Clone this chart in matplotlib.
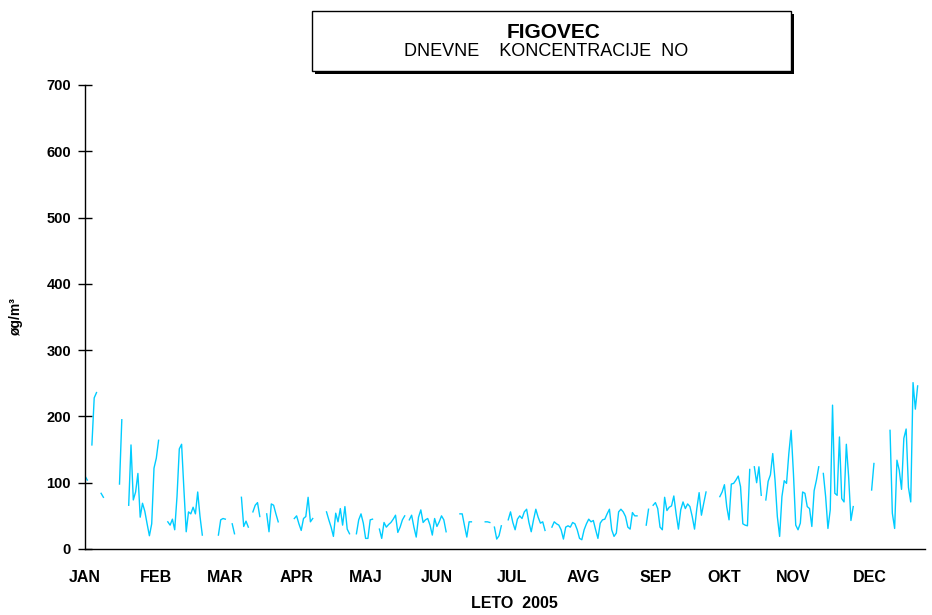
import numpy as np
import matplotlib
matplotlib.use("Agg")
import matplotlib.pyplot as plt
from matplotlib.patches import Rectangle

plt.rcParams['font.family'] = ['Liberation Sans', 'DejaVu Sans']

# Daily NO values, one list per month (None = no measurement)
jan = [110, 104, None, 157, 228, 236, None, 84, 78, None, None, None, None, None, None,
       98, 195, None, None, 66, 157, 74, 86, 114, 48, 69, 57, 38, 20, 38, 122]
feb = [137, 164, None, None, None, 41, 36, 45, 29, 79, 151, 158, 90, 26, 56, 53, 63, 53,
       86, 49, 21, None, None, None, None, None, None, 21]
mar = [44, 46, 45, None, None, 38, 23, None, None, 78, 34, 42, 33, None, 56, 66, 70, 49,
       None, None, 53, 26, 68, 66, 53, 41, None, None, None, None, None]
apr = [None, 46, 50, 38, 28, 46, 49, 78, 41, 46, None, None, None, None, None, 56, 44, 33,
       19, 54, 41, 61, 36, 64, 30, 23, None, None, 23, 44]
maj = [53, 39, 16, 16, 44, 45, None, None, 30, 16, 40, 33, 37, 40, 45, 51, 25, 33, 44, 50,
       None, 44, 51, 33, 18, 48, 59, 40, 44, 46, 36]
jun = [21, 46, 34, 41, 50, 44, 26, None, None, None, None, None, 53, 53, 35, 18, 41, 41,
       None, None, None, None, None, 41, 41, 40, None, 33, 15, 20]
jul = [35, None, None, 44, 56, 40, 29, 45, 50, 46, 56, 60, 40, 26, 44, 60, 48, 39, 41, 28,
       None, None, 33, 41, 38, 36, 29, 15, 33, 35, 33]
avg = [40, 38, 29, 16, 14, 29, 38, 45, 41, 43, 29, 16, 39, 44, 45, 53, 60, 29, 19, 24,
       56, 60, 56, 49, 33, 30, 55, 50, 50, None, None]
sep = [None, 36, 60, None, 66, 70, 61, 33, 29, 78, 58, 63, 65, 80, 53, 30, 59, 71, 61, 68,
       64, 49, 30, 61, 85, 51, 69, 86, None, None]
okt = [None, None, None, 79, 86, 97, 64, 44, 98, 99, 104, 110, 94, 38, 36, 35, 120, None,
       124, 100, 124, 81, None, 74, 102, 112, 144, 104, 49, 19, 79]
nov = [103, 99, 144, 179, 114, 36, 29, 39, 86, 84, 64, 61, 34, 88, 104, 124, None, 114, 79,
       31, 59, 217, 84, 81, 169, 76, 71, 158, 109, 43]
dec = [64, None, None, None, None, None, None, None, 89, 129, None, None, None, None, None,
       None, 179, 54, 31, 134, 119, 90, 167, 181, 93, 71, 251, 211, 246, None, None]

months = ['JAN', 'FEB', 'MAR', 'APR', 'MAJ', 'JUN', 'JUL', 'AVG', 'SEP', 'OKT', 'NOV', 'DEC']
month_pos = [0, 31, 61, 92, 122, 153, 185.5, 216.5, 248, 278, 308, 341]

values = np.array(jan + feb + mar + apr + maj + jun + jul + avg + sep + okt + nov + dec,
                  dtype=float)
days = np.arange(len(values))

fig = plt.figure(figsize=(9.32, 6.15), dpi=100)
ax = fig.add_axes([85/932, 66/615, 840/932, 464/615])

ax.plot(days, values, color='#00CCFF', lw=1.0)

ax.set_xlim(0, 365.2)
ax.set_ylim(0, 700)
ax.set_yticks(np.arange(0, 701, 100))
ax.set_xticks(month_pos)
ax.set_xticklabels(months, fontsize=11.5, fontweight='bold')
ax.tick_params(axis='x', length=0, pad=15)
ax.tick_params(axis='y', direction='inout', length=10, width=1, pad=5, labelsize=10.5)
for lab in ax.get_yticklabels():
    lab.set_fontweight('bold')

for s in ['top', 'right']:
    ax.spines[s].set_visible(False)
for s in ['left', 'bottom']:
    ax.spines[s].set_linewidth(1.0)

# title box with shadow
W, H = 932.0, 615.0
fig.patches.append(Rectangle((315/W, 1 - 74/H), 479/W, 60/H, transform=fig.transFigure,
                             facecolor='black', edgecolor='none', zorder=1))
fig.patches.append(Rectangle((312/W, 1 - 71/H), 479/W, 60/H, transform=fig.transFigure,
                             facecolor='white', edgecolor='black', lw=1.0, zorder=2))
fig.text(554/W, 1 - 32/H, 'FIGOVEC', ha='center', va='center', fontsize=15,
         fontweight='bold', zorder=3)
fig.text(546/W, 1 - 51.5/H, 'DNEVNE    KONCENTRACIJE  NO', ha='center', va='center',
         fontsize=13, zorder=3)

fig.text(16/W, 1 - 317/H, 'øg/m³', rotation=90, ha='center', va='center',
         fontsize=10, fontweight='bold')
fig.text(514/W, 1 - 604/H, 'LETO  2005', ha='center', va='center', fontsize=11.5,
         fontweight='bold')

fig.savefig('out.png', dpi=100)
